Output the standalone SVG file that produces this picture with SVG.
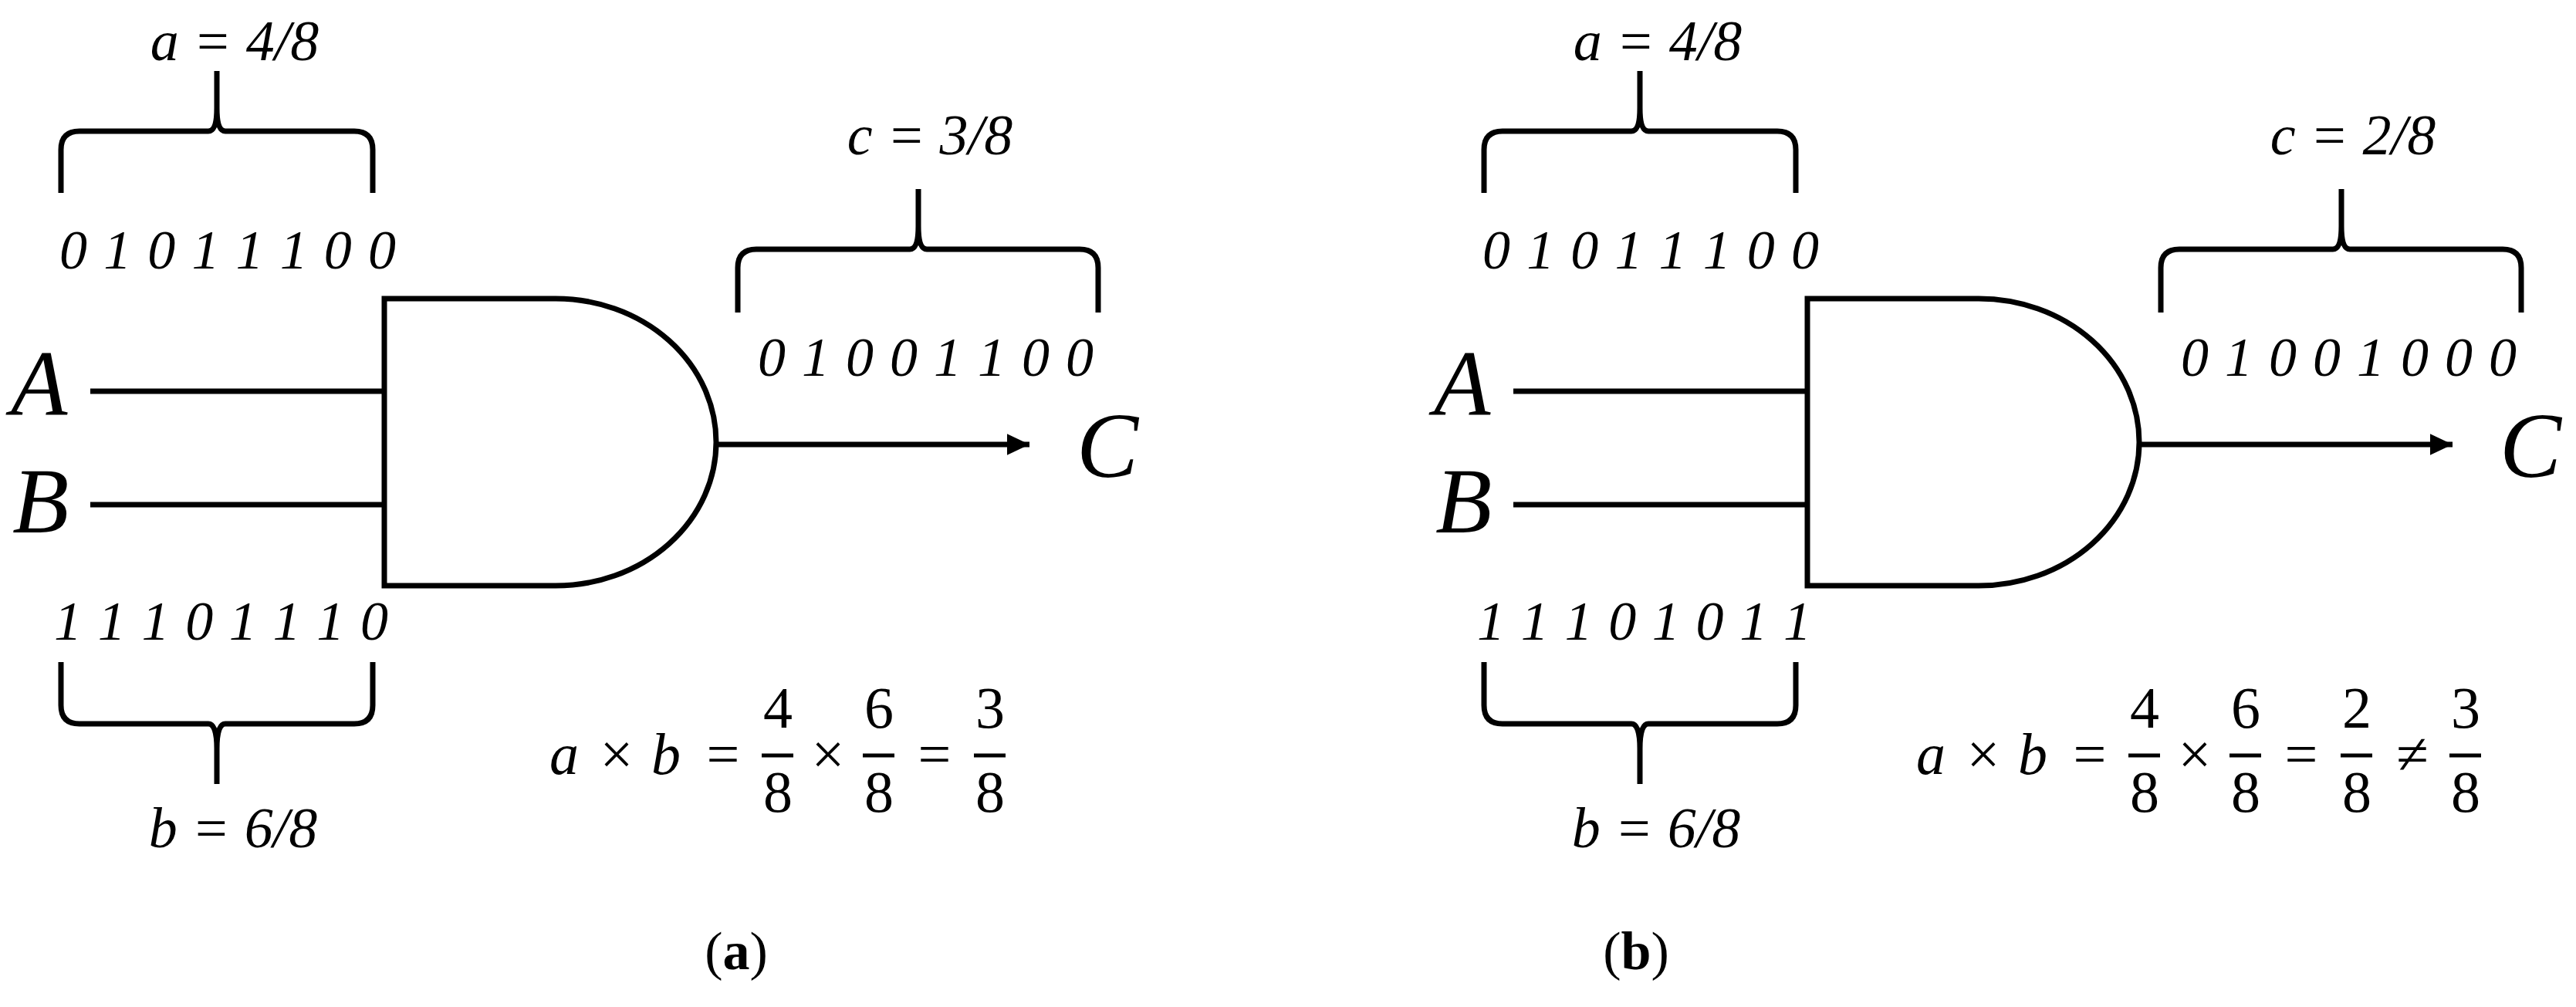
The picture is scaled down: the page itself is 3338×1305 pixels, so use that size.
<svg xmlns="http://www.w3.org/2000/svg" width="3338" height="1305" viewBox="0 0 3338 1305">
<style>
.t{font-family:'Liberation Serif','Times New Roman','DejaVu Serif',serif;font-style:italic;fill:#000}
.lbl{font-size:74px}
.bits{font-size:72px}
.big{font-size:120px}
.eq{font-family:'Liberation Serif','DejaVu Serif',serif;font-size:76px;fill:#000;text-anchor:middle}
.ln{stroke:#000;stroke-width:7;fill:none}
.fb{stroke:#000;stroke-width:5}
.br{stroke:#000;stroke-width:7;fill:none;stroke-linejoin:round}
.cap{font-family:'Liberation Serif','DejaVu Serif',serif;font-size:70px;text-anchor:middle}
</style>
<defs>
<marker id="ah" markerWidth="4.2" markerHeight="4" refX="4.2" refY="2" orient="auto" markerUnits="strokeWidth"><path d="M0,0 L4.2,2 L0,4 z" fill="#000"/></marker>
<g id="panel">
  <g id="gate"><path class="ln" d="M498,387 H720 A208,186 0 0 1 720,759 H498 Z"/></g>
  <g id="connectors">
    <line class="ln" x1="117" y1="507" x2="498" y2="507"/>
    <line class="ln" x1="117" y1="654" x2="498" y2="654"/>
    <line class="ln" x1="928" y1="576" x2="1334" y2="576" marker-end="url(#ah)"/>
  </g>
  <g id="braces">
    <path class="br" d="M79,250 V194 Q79,170 103,170 H270 Q281,170 281,140 V92 M281,140 Q281,170 292,170 H459 Q483,170 483,194 V250"/>
    <path class="br" d="M79,858 V914 Q79,938 103,938 H270 Q281,938 281,970 V1016 M281,970 Q281,938 292,938 H459 Q483,938 483,914 V858"/>
    <path class="br" d="M956,405 V347 Q956,323 980,323 H1179 Q1190,323 1190,293 V245 M1190,293 Q1190,323 1201,323 H1399 Q1423,323 1423,347 V405"/>
  </g>
  <text class="t big" x="14" y="538">A</text>
  <text class="t big" x="16" y="690">B</text>
  <text class="t big" x="1395" y="618">C</text>
  <text class="t lbl" x="304" y="78" text-anchor="middle">a = 4/8</text>
  <text class="t lbl" x="302" y="1098" text-anchor="middle">b = 6/8</text>
</g>
</defs>
<g id="panel-a">
  <use href="#panel"/>
  <text class="t lbl" x="1205" y="200" text-anchor="middle">c = 3/8</text>
  <text class="t bits" x="77" y="348" textLength="436" lengthAdjust="spacing">0 1 0 1 1 1 0 0</text>
  <text class="t bits" x="70" y="829" textLength="433" lengthAdjust="spacing">1 1 1 0 1 1 1 0</text>
  <text class="t bits" x="982" y="487" textLength="435" lengthAdjust="spacing">0 1 0 0 1 1 0 0</text>
  <g id="eq-a" class="eq">
    <text x="731" y="1003" font-style="italic">a</text><text x="799" y="1003">×</text><text x="863" y="1003" font-style="italic">b</text><text x="937" y="1003">=</text>
    <text x="1008" y="943">4</text><line class="fb" x1="987" y1="979" x2="1028" y2="979"/><text x="1008" y="1052">8</text>
    <text x="1073" y="1003">×</text>
    <text x="1139" y="943">6</text><line class="fb" x1="1118" y1="979" x2="1159" y2="979"/><text x="1139" y="1052">8</text>
    <text x="1211" y="1003">=</text>
    <text x="1283" y="943">3</text><line class="fb" x1="1262" y1="979" x2="1303" y2="979"/><text x="1283" y="1052">8</text>
  </g>
  <text class="cap" x="954" y="1256">(<tspan font-weight="bold">a</tspan>)</text>
</g>
<g id="panel-b">
  <use href="#panel" x="1844"/>
  <text class="t lbl" x="3049" y="200" text-anchor="middle">c = 2/8</text>
  <text class="t bits" x="1921" y="348" textLength="436" lengthAdjust="spacing">0 1 0 1 1 1 0 0</text>
  <text class="t bits" x="1914" y="829" textLength="433" lengthAdjust="spacing">1 1 1 0 1 0 1 1</text>
  <text class="t bits" x="2826" y="487" textLength="435" lengthAdjust="spacing">0 1 0 0 1 0 0 0</text>
  <g id="eq-b" class="eq">
    <text x="2502" y="1003" font-style="italic">a</text><text x="2570" y="1003">×</text><text x="2634" y="1003" font-style="italic">b</text><text x="2708" y="1003">=</text>
    <text x="2779" y="943">4</text><line class="fb" x1="2758" y1="979" x2="2799" y2="979"/><text x="2779" y="1052">8</text>
    <text x="2844" y="1003">×</text>
    <text x="2910" y="943">6</text><line class="fb" x1="2889" y1="979" x2="2930" y2="979"/><text x="2910" y="1052">8</text>
    <text x="2982" y="1003">=</text>
    <text x="3054" y="943">2</text><line class="fb" x1="3033" y1="979" x2="3074" y2="979"/><text x="3054" y="1052">8</text>
    <text x="3126" y="1003">≠</text>
    <text x="3195" y="943">3</text><line class="fb" x1="3174" y1="979" x2="3215" y2="979"/><text x="3195" y="1052">8</text>
  </g>
  <text class="cap" x="2120" y="1256">(<tspan font-weight="bold">b</tspan>)</text>
</g>
</svg>
